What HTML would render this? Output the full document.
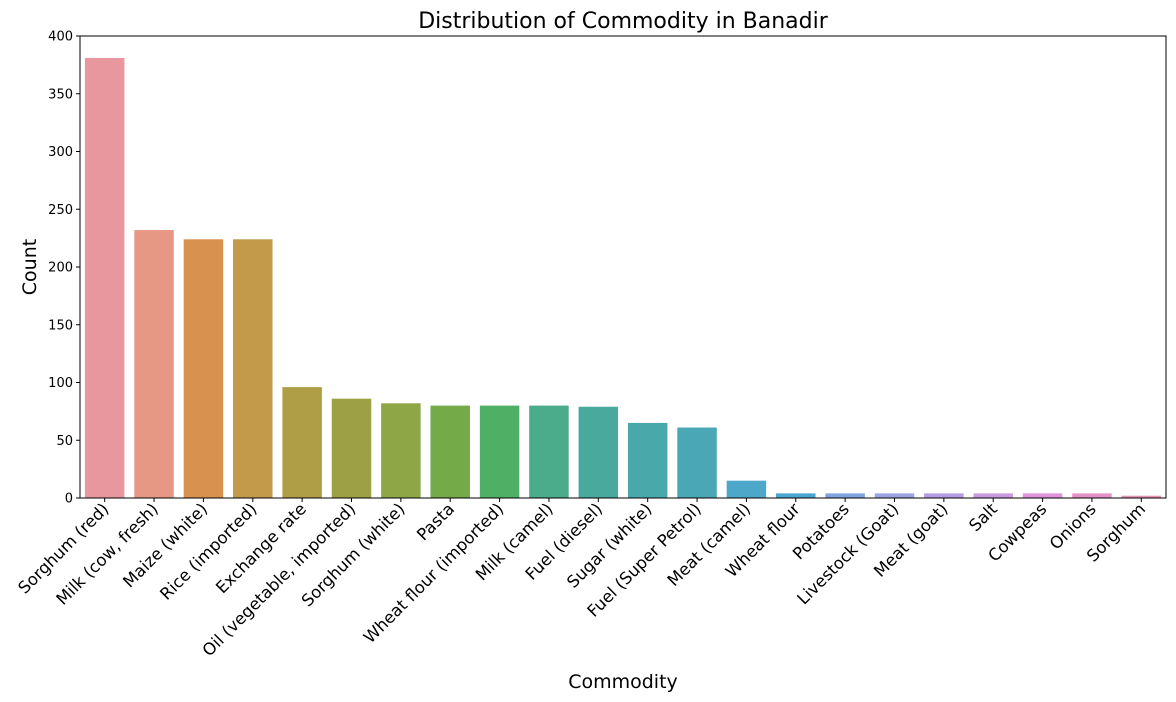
<!DOCTYPE html>
<html><head><meta charset="utf-8"><style>
html,body{margin:0;padding:0;background:#fff}
svg{display:block;font-family:"DejaVu Sans","Liberation Sans",sans-serif}
</style></head><body>
<svg id="chart" width="1176" height="702">
<text x="623" y="28" font-size="22" text-anchor="middle" fill="#000">Distribution of Commodity in Banadir</text>
<text x="623" y="688" font-size="19" text-anchor="middle" fill="#000">Commodity</text>
<text transform="translate(36,267) rotate(-90)" font-size="19" text-anchor="middle" fill="#000">Count</text>
<g id="bars"></g><g id="axes"></g>
</svg>
<script>
const categories=["Sorghum (red)","Milk (cow, fresh)","Maize (white)","Rice (imported)","Exchange rate","Oil (vegetable, imported)","Sorghum (white)","Pasta","Wheat flour (imported)","Milk (camel)","Fuel (diesel)","Sugar (white)","Fuel (Super Petrol)","Meat (camel)","Wheat flour","Potatoes","Livestock (Goat)","Meat (goat)","Salt","Cowpeas","Onions","Sorghum"];
const counts=[381,232,224,224,96,86,82,80,80,80,79,65,61,15,4,4,4,4,4,4,4,2];
const yTicks=[0,50,100,150,200,250,300,350,400];
const colors=["#e9979f","#e79884","#d99150","#c39a4a","#b09e47","#9ea046","#8ea646","#74ab48","#4fb065","#4aac8a","#48a99c","#49a8a9","#4aa7b5","#4ca7c8","#4aa6d0","#7fa5e0","#9ca3e3","#b49ce3","#c99ae0","#de93db","#e592c7","#e794b4"];
const L=80,R=1166,T=36,B=498,NS="http://www.w3.org/2000/svg";
const band=(R-L)/categories.length;
const x=i=>L+band*i+band/2;
const y=v=>B-(v/400)*(B-T);
function mk(t,a,p){const e=document.createElementNS(NS,t);for(const k in a)e.setAttribute(k,a[k]);p.appendChild(e);return e;}
const bars=document.getElementById('bars'),axes=document.getElementById('axes');
const bw=band*0.8;
counts.forEach((v,i)=>{
 const r=mk('rect',{x:x(i)-bw/2,y:y(v),width:bw,height:B-y(v),fill:colors[i%colors.length]},bars);
 
 
 mk('line',{x1:x(i),x2:x(i),y1:B,y2:B+4,stroke:'#000','stroke-width':1},axes);
 const t=mk('text',{transform:`translate(${x(i)+5},${B+12}) rotate(-45)`,'font-size':16.5,'text-anchor':'end',fill:'#000'},axes);
 t.textContent=categories[i];
 
 
});
yTicks.forEach(v=>{
 mk('line',{x1:L-4,x2:L,y1:y(v),y2:y(v),stroke:'#000','stroke-width':1},axes);
 const t=mk('text',{x:L-7,y:y(v)+4.5,'font-size':13,'text-anchor':'end',fill:'#000'},axes);
 t.textContent=v;
 
 
});
const f=mk('rect',{x:L,y:T,width:R-L,height:B-T,fill:'none',stroke:'#000','stroke-width':1},axes);


</script>
</body></html>
